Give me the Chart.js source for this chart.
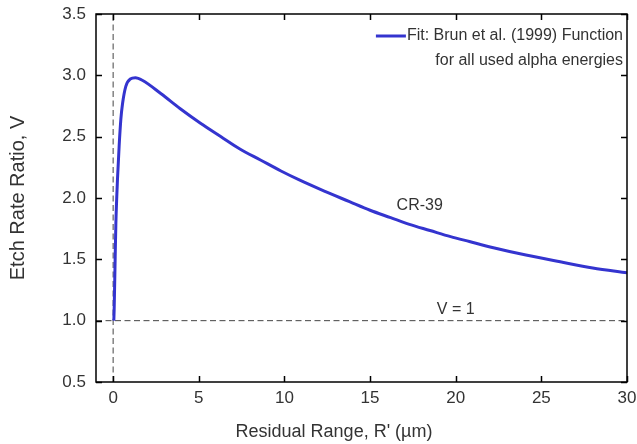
<!DOCTYPE html>
<html>
<head>
<meta charset="utf-8">
<script src="https://cdn.jsdelivr.net/npm/chart.js@4.4.0/dist/chart.umd.min.js"></script>
<style>
  html, body { margin: 0; padding: 0; background: #fff; }
  #wrap { width: 637px; height: 444px; position: relative; }
</style>
</head>
<body>
<div id="wrap"><canvas id="etchChart"></canvas></div>
<script>
// Residual range R' (um) and etch rate ratio V
var rangeValues = [0.04, 0.06, 0.12, 0.16, 0.26, 0.35, 0.45, 0.55, 0.74, 1.0, 1.3, 1.7, 2.8, 3.9, 5.1, 6.3, 7.4, 8.6, 9.8, 10.9, 12.1, 13.8, 15.0, 16.2, 17.3, 18.5, 19.7, 20.8, 22.2, 24.1, 26.1, 28.0, 30.0];
var ratioValues = [1.00, 1.09, 1.52, 1.79, 2.17, 2.42, 2.64, 2.77, 2.91, 2.97, 2.98, 2.96, 2.85, 2.73, 2.61, 2.50, 2.40, 2.31, 2.22, 2.145, 2.07, 1.97, 1.90, 1.84, 1.785, 1.735, 1.685, 1.645, 1.595, 1.535, 1.48, 1.43, 1.39];

var xTicks = [0, 5, 10, 15, 20, 25, 30];
var yTicks = [0.5, 1.0, 1.5, 2.0, 2.5, 3.0, 3.5];
var xRange = [-1, 30];
var yRange = [0.5, 3.5];

var unityLine = [{x: xRange[0], y: 1}, {x: xRange[1], y: 1}];
var zeroLine = [{x: 0, y: yRange[0]}, {x: 0, y: yRange[1]}];

var legendLines = ['Fit: Brun et al. (1999) Function', 'for all used alpha energies'];
var xTitle = "Residual Range, R' (\u00b5m)";
var yTitle = 'Etch Rate Ratio, V';

var fitPoints = rangeValues.map(function(r, i) { return {x: r, y: ratioValues[i]}; });

var FONT = "'Liberation Sans', Arial, sans-serif";
var TEXT = '#333';
var BLUE = '#3434cf';

// frame, inward ticks, titles, annotations and legend
var decor = {
    id: 'decor',
    afterDraw: function(chart) {
        var ctx = chart.ctx;
        var a = chart.chartArea;
        var xs = chart.scales.x, ys = chart.scales.y;
        ctx.save();
        ctx.strokeStyle = '#000';
        ctx.lineWidth = 1.5;
        ctx.strokeRect(a.left, a.top, a.right - a.left, a.bottom - a.top);

        ctx.beginPath();
        xTicks.forEach(function(t) {
            var px = Math.round(xs.getPixelForValue(t)) + 0.5;
            ctx.moveTo(px, a.bottom); ctx.lineTo(px, a.bottom - 6);
            ctx.moveTo(px, a.top); ctx.lineTo(px, a.top + 6);
        });
        yTicks.forEach(function(t) {
            var py = Math.round(ys.getPixelForValue(t)) + 0.5;
            ctx.moveTo(a.left, py); ctx.lineTo(a.left + 6, py);
            ctx.moveTo(a.right, py); ctx.lineTo(a.right - 6, py);
        });
        ctx.stroke();

        ctx.fillStyle = TEXT;
        ctx.textAlign = 'center';
        ctx.textBaseline = 'middle';
        ctx.font = '18px ' + FONT;
        ctx.fillText(xTitle, 334, 432);
        ctx.save();
        ctx.translate(18, (a.top + a.bottom) / 2);
        ctx.rotate(-Math.PI / 2);
        ctx.font = '20px ' + FONT;
        ctx.fillText(yTitle, 0, 0);
        ctx.restore();

        ctx.font = '16px ' + FONT;
        ctx.fillText('CR-39', xs.getPixelForValue(17.9), ys.getPixelForValue(1.94));
        ctx.fillText('V = 1', xs.getPixelForValue(20.0), ys.getPixelForValue(1.09));

        ctx.textAlign = 'right';
        ctx.fillText(legendLines[0], a.right - 4, a.top + 22);
        ctx.fillText(legendLines[1], a.right - 4, a.top + 47);
        var w = ctx.measureText(legendLines[0]).width;
        ctx.strokeStyle = BLUE;
        ctx.lineWidth = 3;
        ctx.beginPath();
        ctx.moveTo(a.right - 4 - w - 31, a.top + 22);
        ctx.lineTo(a.right - 4 - w - 1, a.top + 22);
        ctx.stroke();
        ctx.restore();
    }
};

var ctxEtch = document.getElementById('etchChart').getContext('2d');
var etchChart = new Chart(ctxEtch, {
    type: 'line',
    data: {
        datasets: [{
            label: 'Fit: Brun et al. (1999) Function',
            data: fitPoints,
            borderColor: BLUE,
            borderWidth: 3,
            pointRadius: 0,
            cubicInterpolationMode: 'monotone',
            fill: false
        }, {
            label: 'V = 1',
            data: unityLine,
            borderColor: '#444',
            borderWidth: 1,
            borderDash: [6, 3.5],
            pointRadius: 0
        }, {
            label: 'R = 0',
            data: zeroLine,
            borderColor: '#444',
            borderWidth: 1,
            borderDash: [6, 3.5],
            pointRadius: 0
        }]
    },
    options: {
        responsive: true,
        maintainAspectRatio: false,
        animation: false,
        layout: { padding: { left: 0, right: 10, top: 14, bottom: 0 } },
        scales: {
            x: {
                type: 'linear',
                min: xRange[0],
                max: xRange[1],
                afterBuildTicks: function(scale) {
                    scale.ticks = xTicks.map(function(v) { return {value: v}; });
                },
                afterFit: function(scale) {
                    scale.height = 62;
                    scale.paddingLeft = 0;
                    scale.paddingRight = 0;
                },
                grid: { display: false, drawTicks: false },
                border: { display: false },
                ticks: {
                    color: TEXT,
                    padding: 6,
                    maxRotation: 0,
                    font: { family: FONT, size: 17 }
                }
            },
            y: {
                type: 'linear',
                min: yRange[0],
                max: yRange[1],
                afterBuildTicks: function(scale) {
                    scale.ticks = yTicks.map(function(v) { return {value: v}; });
                },
                afterFit: function(scale) {
                    scale.width = 96;
                    scale.paddingTop = 0;
                    scale.paddingBottom = 0;
                },
                grid: { display: false, drawTicks: false },
                border: { display: false },
                ticks: {
                    color: TEXT,
                    padding: 10,
                    font: { family: FONT, size: 17 },
                    callback: function(v) { return Number(v).toFixed(1); }
                }
            }
        },
        plugins: {
            legend: { display: false },
            tooltip: { enabled: false }
        }
    },
    plugins: [decor]
});
</script>
</body>
</html>
